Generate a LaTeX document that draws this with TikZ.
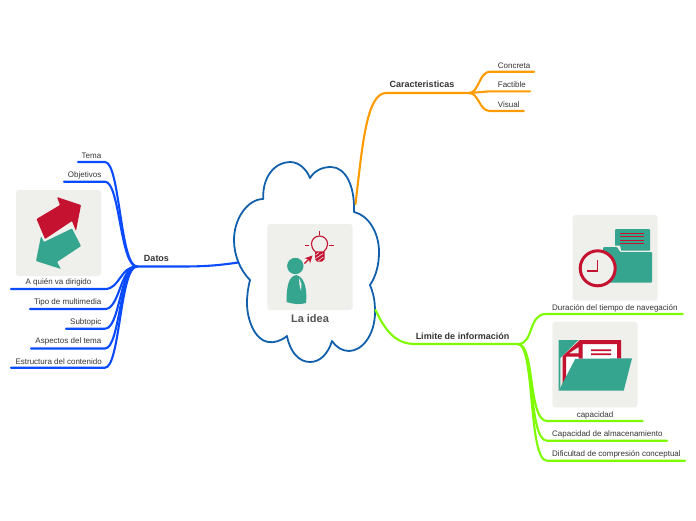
\documentclass[tikz,border=0pt]{standalone}
\usepackage{fontspec}
\setmainfont{Liberation Sans}
\definecolor{cloudc}{HTML}{1260AC}
\definecolor{boxc}{HTML}{EFEFEB}
\definecolor{grn}{HTML}{35A58F}
\definecolor{redc}{HTML}{C41230}
\definecolor{bluec}{HTML}{0A4BFF}
\definecolor{limec}{HTML}{7EFB00}
\definecolor{orgc}{HTML}{FF9A00}
\definecolor{txtc}{HTML}{333333}
\tikzset{
 x=1pt,y=-1pt,
 small/.style={font=\fontsize{8}{9}\selectfont,text=txtc,inner sep=0pt},
 big/.style={font=\fontsize{9}{10}\selectfont\bfseries,text=txtc,inner sep=0pt},
 iconbox/.style={fill=boxc,rounded corners=3pt,draw=none},
 branch/.style={line width=2.1pt,line cap=round,line join=round},
 redl/.style={draw=redc,line width=1pt},
}
\begin{document}
\begin{tikzpicture}
\useasboundingbox (0,0) rectangle (696,520);
% cloud
\draw[cloudc,line width=1.8pt,fill=white,line join=round] (263.3,199)
 .. controls (262,177) and (275,162) .. (290,162)
 .. controls (298,162) and (306,168) .. (310,178)
 .. controls (315,170) and (323,167) .. (331,167)
 .. controls (345,167) and (355,185) .. (354,212)
 .. controls (368,215) and (379,232) .. (379,252)
 .. controls (379,265) and (376,276) .. (370,285)
 .. controls (374,295) and (375,302) .. (375,312)
 .. controls (375,335) and (362,351) .. (349,351)
 .. controls (342,351) and (336,347) .. (332,341)
 .. controls (328,354) and (320,362) .. (310,362)
 .. controls (299,362) and (290,352) .. (287,336)
 .. controls (281,341) and (274,343) .. (268,342)
 .. controls (255,340) and (247,320) .. (247,303)
 .. controls (247,295) and (248,288) .. (250,280)
 .. controls (240,270) and (234,255) .. (234,240)
 .. controls (234,218) and (248,199) .. (263.3,199) -- cycle;
% centre icon
\fill[iconbox] (267.3,224) rectangle (352.7,310);
\fill[grn] (295.3,266) circle (8.2);
\fill[grn] (296.5,275) .. controls (289,276) and (286.5,285) .. (286.5,302)
 .. controls (293,304) and (300,305) .. (306,303)
 .. controls (307,292) and (306,278) .. (296.5,275) -- cycle;
\fill[boxc] (299,278) -- (301.5,284) -- (301,291) -- (299.5,285) -- cycle;
\draw[redc,line width=1.1pt,fill=none] (315.5,252) .. controls (312.5,249) and (311.5,247) .. (311.5,244)
 .. controls (311.5,239.5) and (315,236) .. (319.5,236)
 .. controls (324,236) and (327.6,239.5) .. (327.6,244)
 .. controls (327.6,247) and (326,249.5) .. (323.5,252) -- cycle;
\fill[redc] (315,252) -- (324.5,252) -- (324.5,259) -- (322,261.5) -- (317,261.5) -- (315,259) -- cycle;
\draw[boxc,line width=.6pt] (315.5,255) -- (319,252.5) (315.5,258.5) -- (323,253.5) (318,261) -- (323.5,257);
\draw[redl] (319.3,230.7) -- (319.3,235) (305,245) -- (309.3,245) (329.3,245) -- (334,245);
\draw[redc,line width=1.3pt] (304.5,263.5) -- (309.5,258.5);
\fill[redc] (312.5,255.5) -- (304.8,258.3) -- (309,259.5) -- (310,263.5) -- cycle;
\node[font=\fontsize{11}{12}\selectfont\bfseries,text=black!68,inner sep=0pt] (root) at (310,318.5) {La idea};
% left icon
\fill[iconbox] (16,190) rectangle (101.3,276);
\fill[redc,rounded corners=.8pt] (36.5,219) -- (60,205) -- (57,197) -- (81,205) -- (76,231) -- (72,221) -- (45,239) -- cycle;
\fill[grn,rounded corners=.8pt] (44,242) -- (72,228.5) -- (81,246) -- (57,262) -- (61,269) -- (36,261) -- (41,236) -- cycle;
% right icon 1
\fill[iconbox] (572.7,215) rectangle (657.7,300.7);
\fill[grn,rounded corners=1pt] (615,229) rectangle (650,251);
\draw[redl,line width=.9pt] (620,233) -- (644,233) (620,236.7) -- (644,236.7) (620,240) -- (644,240) (620,243.7) -- (644,243.7);
\fill[boxc] (601,245.5) -- (620,245.5) -- (621,250.5) -- (653,250.5) -- (653,253) -- (601,253) -- cycle;
\fill[grn,rounded corners=1pt] (603,247) -- (617,247) -- (620,252) -- (652,252) -- (652,282.5) -- (603,282.5) -- cycle;
\draw[redc,line width=3pt,fill=boxc] (597.7,268.3) circle (17.5);
\draw[redc,line width=1.4pt] (597.7,260) -- (597.7,271) -- (587.3,271);
% right icon 2
\fill[iconbox] (552.3,321.7) rectangle (637.7,407.3);
\fill[grn] (558.7,340) -- (578.5,340) -- (560.3,358) -- (560.3,387) -- (558.7,390.7) -- cycle;
\fill[white] (582.7,344) rectangle (617,360);
\fill[white] (566,357) -- (578.5,357) -- (578.5,360) -- (566,385) -- cycle;
\fill[redc] (580,340) -- (621,340) -- (621,358.5) -- (617,358.5) -- (617,344) -- (582.7,344) -- (582.7,358.5)
 -- (578.5,358.5) -- (578.5,347) -- (569,353.3) -- (578.5,353.3) -- (578.5,356.7) -- (566,356.7) -- (566,380)
 -- (562.7,385) -- (562.7,356) -- cycle;
\fill[redc] (591,349.4) rectangle (611,351) (591,353.3) rectangle (611,355);
\fill[grn] (575.3,358.8) -- (632,358.3) -- (623.7,390.7) -- (558.7,390.7) -- cycle;
% texts
\node[big] (dat) at (156.5,258) {Datos};
\node[big] (car) at (422,84.5) {Caracteristicas};
\node[big] (lim) at (462.5,336.5) {Limite de información};
\node[small,anchor=east] (t1) at (101.5,156) {Tema};
\node[small,anchor=east] (t2) at (101.5,175.7) {Objetivos};
\node[small] (t3) at (58.5,282.5) {A quién va dirigido};
\node[small,anchor=east] (t4) at (101.5,302.5) {Tipo de multimedia};
\node[small,anchor=east] (t5) at (101.5,322) {Subtopic};
\node[small,anchor=east] (t6) at (101.5,341.5) {Aspectos del tema};
\node[small,anchor=east] (t7) at (102,361.5) {Estructura del contenido};
\node[small,anchor=west] (c1) at (497.7,65.5) {Concreta};
\node[small,anchor=west] (c2) at (497.7,85) {Factible};
\node[small,anchor=west] (c3) at (497.7,105) {Visual};
\node[small,anchor=west] (l1) at (552,308) {Duración del tiempo de navegación};
\node[small] (l2) at (595,415) {capacidad};
\node[small,anchor=west] (l3) at (552,434.5) {Capacidad de almacenamiento};
\node[small,anchor=west] (l4) at (552,454) {Dificultad de compresión conceptual};
% named connector points
\coordinate (bs) at (238,262.5);
\coordinate (bh) at (137,266.5);
\coordinate (oS) at (355.5,204);
\coordinate (oh) at (469,93);
\coordinate (lS) at (375.5,310);
\coordinate (lh) at (518,344);
% blue
\draw[bluec,branch] (bs) .. controls (215,266) and (200,266.5) .. (180,266.5) -- (bh);
\foreach \xe/\y in {78/162,64/181.7,11/289,30/309,66/328.7,31/348.5,11/367.7}{
 \draw[bluec,branch] (\xe,\y) -- (105,\y) .. controls (120,\y) and (120,266.5) .. (bh);}
% orange
\draw[orgc,branch] (oS) .. controls (362,150) and (366,93) .. (386,93) -- (oh);
\foreach \xe/\y in {534/71.7,530/91.3,523.7/111}{
 \draw[orgc,branch] (\xe,\y) -- (490,\y) .. controls (479,\y) and (479,93) .. (oh);}
% lime
\draw[limec,branch] (lS) .. controls (385,330) and (395,344) .. (415,344) -- (lh);
\draw[limec,branch] (682.7,314) -- (546,314) .. controls (528,314) and (534,344) .. (lh);
\foreach \xe/\y in {642.7/421,667/440.7,685/460.7}{
 \draw[limec,branch] (\xe,\y) -- (547,\y) .. controls (528,\y) and (535,344) .. (lh);}
\end{tikzpicture}
\end{document}
